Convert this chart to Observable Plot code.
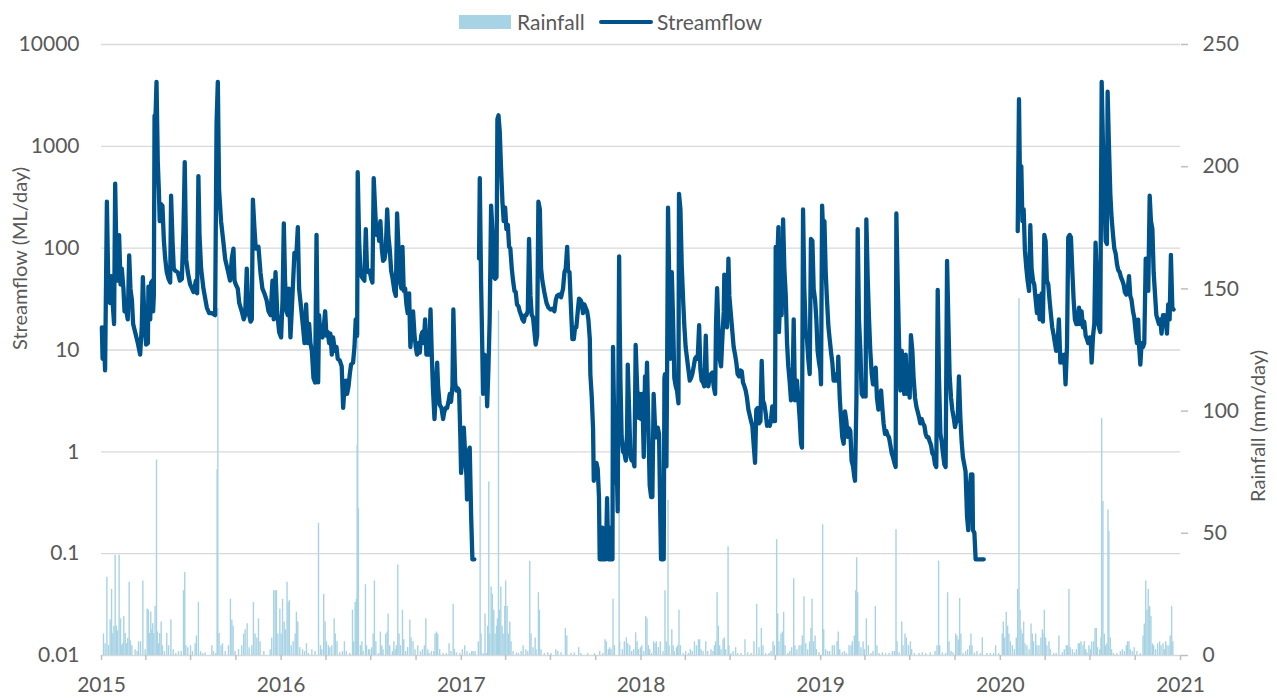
<!DOCTYPE html>
<html><head><meta charset="utf-8">
<script src="https://cdn.jsdelivr.net/npm/d3@7"></script>
<script src="https://cdn.jsdelivr.net/npm/@observablehq/plot@0.6"></script>
<style>
body{margin:0;background:#fff;font-family:Lato,"Open Sans",sans-serif;}
#legend{position:relative;width:1277px;height:30px;}
#legend div{position:absolute;}
#chart{position:relative;width:1277px;height:668px;}
#chart svg{position:absolute;left:0;top:0;}
</style></head><body>
<div id="legend"></div>
<div id="chart"></div>
<script>
// ---------- DATA ----------
const seriesNames = ["Rainfall", "Streamflow"];
const axisTitles = ["Streamflow (ML/day)", "Rainfall (mm/day)"];
const flowTicks = [0.01, 0.1, 1, 10, 100, 1000, 10000];
const rainTicks = [0, 50, 100, 150, 200, 250];
const yearLabels = [2015, 2016, 2017, 2018, 2019, 2020, 2021];

// [years since 1 Jan 2015, ML/day]; null = missing record
const streamflow2015 = [[0.002,16.7],[0.006,8.2],[0.011,16.7],[0.020,6.3],[0.030,286],[0.039,31],[0.048,29],[0.054,53],[0.061,31],[0.070,18],[0.076,430],[0.085,53],[0.091,48],[0.098,134],[0.106,44],[0.113,63],[0.122,40],[0.128,24],[0.135,26],[0.146,20],[0.154,85],[0.161,40],[0.169,31],[0.176,18],[0.187,15],[0.202,11.7],[0.215,9],[0.224,17],[0.230,52],[0.239,20],[0.248,11.3],[0.258,11.7],[0.261,42],[0.271,20],[0.276,46],[0.284,48],[0.287,24],[0.291,34],[0.295,2000],[0.300,1850],[0.306,4300],[0.313,700],[0.319,370],[0.324,184],[0.332,270],[0.339,260],[0.347,118],[0.354,80],[0.363,58],[0.373,50],[0.382,46],[0.387,327],[0.395,118],[0.402,63],[0.410,60],[0.424,58],[0.436,48],[0.447,50],[0.456,154],[0.463,700],[0.471,78],[0.480,58],[0.493,44],[0.512,37],[0.525,48],[0.532,36],[0.539,510],[0.545,135],[0.554,63],[0.567,40],[0.586,26],[0.599,23],[0.614,23],[0.632,22],[0.640,1690],[0.647,4300],[0.654,374],[0.665,184],[0.677,118],[0.688,78],[0.703,60],[0.715,48],[0.725,80],[0.734,99],[0.740,48],[0.747,44],[0.758,40],[0.766,29],[0.780,24],[0.791,20],[0.799,22],[0.808,63],[0.817,24],[0.829,19],[0.836,20],[0.842,300],[0.851,154],[0.858,99],[0.873,103],[0.884,58],[0.895,40],[0.906,36],[0.918,31],[0.929,24],[0.940,22],[0.951,48],[0.958,20],[0.968,58],[0.977,24],[0.988,15],[0.999,13.3]];
const streamflow2016 = [[1.007,31],[1.014,175],[1.021,48],[1.029,24],[1.036,22],[1.042,40],[1.051,13.3],[1.058,24],[1.066,48],[1.073,90],[1.083,80],[1.092,161],[1.099,40],[1.110,26],[1.121,16.7],[1.129,11.7],[1.138,28],[1.147,11.7],[1.155,18],[1.162,11.7],[1.170,9.8],[1.179,5.3],[1.188,4.8],[1.196,135],[1.205,4.8],[1.210,22],[1.218,14],[1.229,13.3],[1.236,16.7],[1.244,24],[1.251,13.8],[1.259,15],[1.266,11.7],[1.273,14.5],[1.281,9],[1.288,13.3],[1.298,9.8],[1.307,10.7],[1.314,8.2],[1.325,7.9],[1.336,6.9],[1.344,2.7],[1.351,4.1],[1.359,5.0],[1.366,3.7],[1.374,4.4],[1.381,5.8],[1.388,7.2],[1.399,7.5],[1.407,10.7],[1.414,20],[1.422,13.8],[1.425,557],[1.433,118],[1.440,60],[1.448,52],[1.455,50],[1.462,48],[1.470,154],[1.477,60],[1.485,58],[1.492,60],[1.500,50],[1.507,46],[1.514,487],[1.522,240],[1.529,135],[1.537,170],[1.544,118],[1.551,184],[1.559,100],[1.566,75],[1.574,78],[1.581,95],[1.589,240],[1.596,130],[1.603,99],[1.611,60],[1.618,52],[1.629,38],[1.637,34],[1.644,219],[1.652,99],[1.659,48],[1.668,40],[1.674,103],[1.681,38],[1.689,40],[1.696,28],[1.703,23],[1.711,36],[1.718,10.7],[1.726,16.7],[1.733,24],[1.741,14],[1.748,10.7],[1.755,9],[1.763,11.7],[1.770,9.4],[1.778,13.8],[1.785,15],[1.792,11.7],[1.800,20],[1.807,9],[1.815,11.7],[1.822,9],[1.830,25],[1.837,9],[1.844,4.0],[1.852,2.1],[1.859,3.7],[1.867,7.5],[1.872,4.4],[1.881,2.9],[1.891,2.7],[1.900,2.1],[1.907,2.5],[1.915,2.7],[1.922,2.7],[1.930,3.1],[1.937,3.7],[1.944,3.1],[1.952,4.4],[1.957,25],[1.967,4.8],[1.974,4.0],[1.982,4.2],[1.989,4.0],[1.996,1.4]];
const streamflow2017 = [[2.000,0.62],[2.007,0.89],[2.015,1.73],[2.022,1.0],[2.030,0.57],[2.033,0.34],[2.041,1.0],[2.048,1.1],[2.056,0.23],[2.063,0.088],[2.074,0.088],[2.085,null],[2.100,79],[2.104,487],[2.111,48],[2.117,12.8],[2.122,3.7],[2.130,9],[2.137,8.2],[2.145,2.8],[2.152,6.5],[2.159,20],[2.167,262],[2.174,154],[2.182,52],[2.189,50],[2.197,52],[2.202,1850],[2.208,2020],[2.215,1400],[2.222,630],[2.230,286],[2.237,184],[2.245,250],[2.252,154],[2.260,170],[2.267,103],[2.274,99],[2.282,63],[2.289,48],[2.297,38],[2.304,37],[2.311,28],[2.319,27],[2.326,24],[2.334,22],[2.341,20],[2.349,19],[2.356,22],[2.363,22],[2.371,24],[2.378,123],[2.386,34],[2.393,22],[2.400,21],[2.408,15],[2.415,11.3],[2.423,13.8],[2.430,286],[2.438,240],[2.445,63],[2.452,48],[2.463,37],[2.475,29],[2.486,26],[2.497,25],[2.508,25.5],[2.519,24],[2.527,31],[2.534,34],[2.545,35],[2.556,33],[2.567,40],[2.575,58],[2.582,63],[2.590,103],[2.595,60],[2.603,58],[2.612,24],[2.619,12.8],[2.627,12.8],[2.634,16.7],[2.641,16.7],[2.649,24],[2.656,32],[2.664,31],[2.671,29],[2.678,23],[2.686,28],[2.693,26],[2.701,24],[2.708,20],[2.716,12.8],[2.719,5.8],[2.727,3.4],[2.734,1.7],[2.738,0.52],[2.745,0.78],[2.753,0.78],[2.760,0.68],[2.767,0.36],[2.771,0.088],[2.779,0.088],[2.786,0.18],[2.790,0.088],[2.805,0.088],[2.812,0.35],[2.819,0.088],[2.827,0.18],[2.834,0.088],[2.842,0.088],[2.845,10.7],[2.853,1.4],[2.860,0.57],[2.868,0.47],[2.871,0.26],[2.879,83],[2.882,20],[2.886,5.3],[2.893,1.4],[2.901,1.0],[2.908,0.97],[2.916,0.82],[2.923,1.5],[2.927,7.2],[2.934,2.8],[2.942,0.89],[2.949,0.82],[2.957,0.82],[2.964,0.72],[2.971,11.2],[2.979,4.4],[2.986,2.16],[2.994,3.7]];
const streamflow2018 = [[3.001,2.1],[3.008,3.7],[3.016,0.89],[3.023,5.5],[3.031,4.4],[3.034,7.5],[3.042,1.7],[3.049,0.47],[3.057,0.36],[3.064,0.36],[3.071,3.7],[3.079,1.7],[3.086,1.39],[3.094,1.73],[3.101,1.5],[3.108,0.23],[3.112,0.088],[3.127,0.088],[3.131,5.3],[3.134,5.8],[3.142,0.72],[3.146,6.9],[3.151,250],[3.157,58],[3.164,8.2],[3.172,58],[3.179,20],[3.186,5.3],[3.194,4.4],[3.201,4.0],[3.209,3.0],[3.212,342],[3.220,240],[3.227,69],[3.235,31],[3.242,17],[3.249,10.7],[3.257,8.2],[3.264,6.5],[3.272,5.0],[3.279,5.3],[3.286,5.8],[3.294,6.9],[3.301,8.2],[3.309,8.6],[3.316,8.2],[3.324,17.5],[3.331,6.5],[3.338,5.0],[3.346,4.8],[3.353,4.4],[3.361,13.8],[3.368,4.6],[3.375,4.4],[3.383,5.3],[3.390,5.8],[3.398,6.0],[3.405,4.4],[3.413,3.7],[3.418,18],[3.424,40.5],[3.431,16.7],[3.438,8.2],[3.446,6.9],[3.453,12.8],[3.461,23.8],[3.464,55],[3.472,22],[3.479,16.7],[3.487,79],[3.492,34],[3.501,22],[3.509,15],[3.516,10.7],[3.524,9.0],[3.531,7.5],[3.538,5.8],[3.546,5.5],[3.553,6.3],[3.561,6.2],[3.568,4.8],[3.576,4.4],[3.583,4.0],[3.590,3.4],[3.598,2.6],[3.605,2.3],[3.613,2.0],[3.620,1.8],[3.627,1.2],[3.635,0.78],[3.642,2.6],[3.650,2.7],[3.657,1.9],[3.665,2.0],[3.672,7.8],[3.679,3.2],[3.687,2.9],[3.694,2.4],[3.702,1.8],[3.709,1.9],[3.717,1.8],[3.724,2.1],[3.731,2.8],[3.739,2.0],[3.746,2.0],[3.750,103],[3.757,63],[3.765,161],[3.768,15],[3.776,40],[3.783,22],[3.791,192],[3.798,63],[3.806,34],[3.813,11.7],[3.820,6.9],[3.828,4.8],[3.835,3.2],[3.843,3.7],[3.850,20],[3.857,3.2],[3.865,4.0],[3.868,5.0],[3.876,3.3],[3.883,2.16],[3.891,1.2],[3.896,1.1],[3.902,240],[3.909,40],[3.917,15],[3.924,12.8],[3.931,8.2],[3.939,5.8],[3.946,123],[3.954,118],[3.961,40],[3.969,31],[3.976,20],[3.983,9.8],[3.991,7.5],[3.998,6.3]];
const streamflow2019 = [[4.002,4.6],[4.008,262],[4.013,154],[4.021,184],[4.028,58],[4.035,31],[4.043,17],[4.050,12.8],[4.058,9.4],[4.065,7.5],[4.072,5.0],[4.080,5.0],[4.087,5.8],[4.095,5.0],[4.098,8.6],[4.106,3.4],[4.113,2.16],[4.120,1.4],[4.128,1.2],[4.135,2.5],[4.143,2.0],[4.150,1.4],[4.158,1.7],[4.165,1.6],[4.172,0.82],[4.180,0.72],[4.187,0.57],[4.191,0.52],[4.199,3.4],[4.206,154],[4.213,20],[4.221,9.8],[4.228,3.7],[4.236,3.5],[4.243,3.7],[4.250,3.5],[4.254,192],[4.262,48],[4.269,20],[4.276,9.8],[4.284,5.8],[4.291,4.6],[4.299,5.8],[4.306,6.7],[4.313,3.4],[4.321,2.6],[4.328,3.1],[4.336,4.0],[4.343,2.7],[4.350,1.9],[4.358,1.5],[4.365,1.6],[4.373,1.45],[4.380,1.39],[4.388,1.16],[4.395,0.97],[4.402,0.89],[4.410,0.78],[4.417,0.71],[4.421,219],[4.428,48],[4.436,11.7],[4.443,4.0],[4.451,9.8],[4.458,5.0],[4.465,3.7],[4.473,9.0],[4.480,3.7],[4.488,5.3],[4.495,3.4],[4.502,14],[4.510,9.8],[4.517,5.3],[4.525,3.4],[4.532,2.8],[4.539,2.5],[4.547,2.2],[4.554,1.9],[4.562,2.1],[4.569,1.9],[4.577,1.8],[4.584,1.5],[4.591,1.39],[4.599,1.39],[4.606,1.27],[4.614,1.16],[4.621,0.97],[4.628,0.93],[4.636,0.75],[4.643,0.71],[4.651,39],[4.658,5.3],[4.666,1.5],[4.673,1.27],[4.680,0.97],[4.688,0.75],[4.695,0.71],[4.703,75],[4.710,19.9],[4.717,5.8],[4.725,3.4],[4.732,2.6],[4.740,2.16],[4.747,1.75],[4.754,2.0],[4.762,2.0],[4.769,5.5],[4.777,2.16],[4.784,1.27],[4.791,0.89],[4.799,0.75],[4.806,0.64],[4.814,0.234],[4.821,0.17],[4.829,0.44],[4.836,0.6],[4.840,0.53],[4.844,0.6],[4.847,0.17],[4.855,0.16],[4.862,0.088],[4.907,0.088],[4.968,null]];
const streamflow2020 = [[5.096,147],[5.103,2900],[5.110,262],[5.116,637],[5.122,184],[5.129,240],[5.136,95],[5.144,63],[5.151,48],[5.159,38],[5.166,168],[5.173,63],[5.181,48],[5.188,44],[5.196,31],[5.203,23],[5.210,34],[5.218,20],[5.225,20],[5.229,36],[5.236,19],[5.244,135],[5.251,118],[5.258,48],[5.266,44],[5.273,31],[5.281,22],[5.288,16.7],[5.296,14],[5.303,11.7],[5.310,9.8],[5.318,11.7],[5.325,20],[5.333,7.5],[5.340,9.0],[5.348,7.5],[5.355,9.0],[5.362,4.6],[5.370,10.7],[5.377,128],[5.385,135],[5.392,128],[5.400,58],[5.407,31],[5.414,20],[5.422,18],[5.429,18],[5.437,26],[5.444,18],[5.451,24],[5.459,16.7],[5.466,19],[5.474,13.8],[5.481,12.8],[5.488,11.7],[5.496,13.3],[5.503,11.7],[5.507,7.5],[5.515,13.8],[5.522,18],[5.529,113],[5.537,48],[5.540,20],[5.548,16.7],[5.555,15],[5.563,4300],[5.570,1080],[5.578,342],[5.585,118],[5.592,110],[5.596,3440],[5.603,1080],[5.611,342],[5.618,200],[5.626,135],[5.633,100],[5.641,88],[5.648,70],[5.655,61],[5.663,58],[5.670,52],[5.678,48],[5.685,44],[5.692,37],[5.700,35],[5.707,38],[5.715,53],[5.722,34],[5.729,31],[5.737,24],[5.744,21],[5.752,15],[5.759,11.7],[5.766,19.9],[5.770,11.7],[5.778,7.2],[5.785,11.7],[5.793,10.7],[5.800,11.7],[5.808,79],[5.815,79],[5.822,38],[5.830,327],[5.837,184],[5.845,154],[5.852,58],[5.859,37],[5.867,22],[5.874,20],[5.881,18],[5.889,20],[5.896,14.5],[5.904,22],[5.911,22],[5.919,20],[5.926,14.5],[5.933,28],[5.941,20],[5.948,86],[5.956,26],[5.963,25]];

// [years since 1 Jan 2015, mm/day]
const rain2015 = [[0.011,8.8],[0.020,4.8],[0.030,32],[0.039,4],[0.048,14.5],[0.056,27],[0.063,9],[0.069,12],[0.076,41],[0.083,12],[0.089,10],[0.098,41],[0.106,15],[0.113,4],[0.117,4.8],[0.124,16],[0.132,9],[0.139,4.8],[0.146,7],[0.154,30],[0.161,6],[0.169,4],[0.187,2.4],[0.198,1.6],[0.206,5.6],[0.217,5.6],[0.230,30.5],[0.243,2.4],[0.254,19],[0.261,18.5],[0.267,9],[0.274,17.7],[0.280,10.5],[0.285,13],[0.291,9],[0.298,20],[0.306,80],[0.311,9.6],[0.317,4.8],[0.324,9],[0.332,13.7],[0.339,4],[0.350,1.6],[0.363,9],[0.373,4],[0.386,14.5],[0.399,2.4],[0.413,0.8],[0.428,1.6],[0.443,1.6],[0.456,26.5],[0.463,34],[0.469,4],[0.480,3.2],[0.495,4],[0.506,1.6],[0.521,4.8],[0.528,8],[0.539,21.7],[0.551,1.6],[0.562,0.8],[0.576,1.1],[0.614,4],[0.623,1.6],[0.636,0.8],[0.643,76],[0.647,142],[0.654,9],[0.665,4],[0.673,4.8],[0.688,1.6],[0.706,4],[0.717,23],[0.725,14.5],[0.732,12],[0.743,1.6],[0.762,2.4],[0.780,4],[0.791,8.8],[0.799,10.5],[0.810,13],[0.821,3.2],[0.836,4],[0.845,21.7],[0.854,8.8],[0.864,7.2],[0.873,15],[0.882,5.6],[0.903,1.6],[0.938,2.4],[0.947,7.2],[0.958,26.5],[0.966,26.5],[0.973,26.5],[0.981,8.8],[0.992,19],[0.999,8.8]];
const rain2016 = [[1.007,23],[1.016,13.7],[1.023,10.5],[1.032,30],[1.038,21.7],[1.045,22.5],[1.055,4],[1.066,5.6],[1.077,8.8],[1.084,17.7],[1.092,13.7],[1.103,3.2],[1.118,2.4],[1.129,1.6],[1.140,4.8],[1.151,0.8],[1.170,2.4],[1.188,1.6],[1.207,54],[1.218,4],[1.225,2.4],[1.236,25],[1.244,13.7],[1.251,5.6],[1.262,4],[1.270,3.2],[1.281,4],[1.294,15],[1.301,8.8],[1.310,5.6],[1.325,1.1],[1.340,1.6],[1.351,5.6],[1.362,1.6],[1.381,0.8],[1.396,18.5],[1.403,5.6],[1.411,21.7],[1.418,23],[1.422,86],[1.425,137],[1.429,60],[1.440,4],[1.448,5.6],[1.455,1.6],[1.468,29],[1.474,4],[1.485,2.4],[1.492,2.4],[1.503,3.2],[1.511,8.8],[1.518,30.5],[1.526,5.6],[1.540,0.8],[1.551,9.6],[1.559,4],[1.566,2.4],[1.581,8.8],[1.589,9.6],[1.594,17],[1.603,4],[1.618,1.6],[1.626,5.6],[1.633,2.4],[1.640,4],[1.648,37],[1.655,8.8],[1.663,4],[1.674,18.5],[1.681,6.4],[1.692,1.6],[1.703,3.2],[1.715,14.5],[1.722,7.2],[1.733,5.6],[1.744,2.4],[1.759,4],[1.774,1.6],[1.785,2.4],[1.796,4],[1.804,15],[1.815,2.4],[1.822,0.8],[1.835,1.6],[1.848,1.6],[1.855,8.8],[1.863,9.6],[1.870,8.8],[1.881,2.4],[1.900,0.8],[1.918,0.8],[1.933,4.8],[1.944,1.6],[1.956,21],[1.963,2.4],[1.974,1.1],[1.993,0.8]];
const rain2017 = [[2.007,2.4],[2.020,4],[2.033,1.6],[2.048,0.8],[2.059,1.6],[2.067,1.6],[2.078,1.6],[2.096,5.6],[2.106,106],[2.111,8.8],[2.122,0.8],[2.133,17],[2.141,0.8],[2.148,12],[2.154,71],[2.159,8.8],[2.167,28],[2.174,25],[2.182,18.5],[2.189,8.8],[2.197,12],[2.202,15],[2.208,141],[2.213,18.5],[2.221,28],[2.228,12],[2.234,8.8],[2.243,20],[2.248,30.5],[2.256,20],[2.263,8.8],[2.271,13.7],[2.278,5.6],[2.289,1.6],[2.308,1.1],[2.319,0.8],[2.334,1.6],[2.345,4],[2.360,2.4],[2.371,1.6],[2.382,38.6],[2.389,8.8],[2.400,3.2],[2.412,7.2],[2.417,2.4],[2.430,25.7],[2.436,18.5],[2.445,2.4],[2.463,0.8],[2.482,1.1],[2.500,0.8],[2.527,2.4],[2.538,1.6],[2.556,1.1],[2.580,11],[2.588,8],[2.612,0.8],[2.630,1.1],[2.654,3.2],[2.667,0.8],[2.704,0.8],[2.741,0.8],[2.771,1.6],[2.788,0.8],[2.801,6.4],[2.808,5.6],[2.819,2.4],[2.827,3.2],[2.834,2.4],[2.845,23],[2.853,4],[2.879,65],[2.882,5.6],[2.897,2.4],[2.908,5.6],[2.919,7.2],[2.927,4.8],[2.938,4],[2.949,1.6],[2.960,2.4],[2.971,9.3],[2.979,5.6],[2.986,2.4],[2.997,3.2]];
const rain2018 = [[3.005,4],[3.016,1.6],[3.027,16],[3.034,15],[3.042,4],[3.049,2.4],[3.060,0.8],[3.071,5.6],[3.079,4.8],[3.086,5.6],[3.097,3.2],[3.108,5.6],[3.123,1.6],[3.134,26.5],[3.142,5.6],[3.151,63.5],[3.157,4],[3.172,10.5],[3.179,4],[3.186,1.6],[3.198,3.2],[3.205,4],[3.212,18.5],[3.220,4],[3.235,0.8],[3.249,1.6],[3.264,0.8],[3.275,2.4],[3.286,1.6],[3.298,5.6],[3.309,4],[3.320,6.4],[3.327,6.4],[3.335,2.4],[3.346,1.6],[3.361,5.6],[3.372,1.6],[3.390,2.4],[3.401,1.6],[3.409,4],[3.416,5.6],[3.424,25.7],[3.431,12],[3.438,4],[3.446,2.4],[3.457,6.4],[3.464,7.2],[3.472,2.4],[3.485,44.5],[3.490,4],[3.501,0.8],[3.513,1.6],[3.527,3.2],[3.538,0.8],[3.557,0.8],[3.579,6.4],[3.594,1.1],[3.613,0.8],[3.629,5.6],[3.644,21],[3.657,3.2],[3.670,11],[3.679,4],[3.694,0.8],[3.713,0.8],[3.724,1.6],[3.735,5.6],[3.742,4],[3.755,47.4],[3.761,17],[3.768,5.6],[3.779,8.8],[3.787,9.6],[3.794,17.7],[3.802,4],[3.817,0.8],[3.828,1.6],[3.839,3.2],[3.850,31.4],[3.857,4],[3.868,2.4],[3.880,4],[3.891,4],[3.898,8],[3.907,24],[3.917,4.8],[3.928,2.4],[3.939,5.6],[3.946,11],[3.952,23],[3.961,5.6],[3.969,8],[3.976,2.4],[3.991,1.1]];
const rain2019 = [[4.011,53.5],[4.017,10.5],[4.028,2.4],[4.039,1.6],[4.050,1.6],[4.065,4],[4.076,4],[4.091,5.6],[4.098,9.6],[4.106,2.4],[4.120,1.1],[4.132,1.6],[4.143,0.8],[4.158,4],[4.169,4],[4.176,5.6],[4.187,8],[4.195,26.5],[4.200,40],[4.206,25.7],[4.213,5.6],[4.224,3.2],[4.236,5.6],[4.243,2.4],[4.254,15],[4.265,4],[4.280,0.8],[4.291,1.6],[4.304,20],[4.313,4],[4.325,0.8],[4.343,1.1],[4.361,0.8],[4.380,0.8],[4.399,1.6],[4.410,1.6],[4.419,51.5],[4.425,5.6],[4.436,1.1],[4.451,13.7],[4.458,4],[4.469,8.8],[4.477,7.2],[4.488,4],[4.499,5.6],[4.506,2.4],[4.521,0.8],[4.547,0.8],[4.565,1.1],[4.584,0.8],[4.610,1.1],[4.636,1.6],[4.647,4],[4.656,38.6],[4.662,4],[4.677,1.1],[4.695,0.8],[4.706,25.7],[4.714,5.6],[4.725,1.6],[4.736,1.1],[4.751,8.8],[4.758,8],[4.766,6.4],[4.773,23.3],[4.780,8.8],[4.792,0.8],[4.806,1.6],[4.817,2.4],[4.829,4],[4.836,8.8],[4.842,4],[4.855,1.1],[4.869,1.6],[4.888,0.8],[4.899,7.2],[4.925,0.8],[4.944,0.8],[4.962,0.8],[4.973,4],[4.990,0.8]];
const rain2020 = [[5.010,8.8],[5.016,13.7],[5.023,7.2],[5.032,17.7],[5.040,12],[5.047,8.8],[5.055,5.6],[5.066,4],[5.077,2.4],[5.088,7.2],[5.096,27],[5.103,146],[5.109,18.5],[5.114,10.5],[5.122,8.8],[5.129,13.7],[5.136,4.8],[5.147,4],[5.159,2.4],[5.170,12.9],[5.177,8.8],[5.184,5.6],[5.196,8.8],[5.203,4],[5.214,4],[5.225,7.2],[5.233,10.5],[5.236,8.8],[5.244,18.5],[5.251,7.2],[5.258,4],[5.270,5.6],[5.277,2.4],[5.296,0.8],[5.310,0.8],[5.325,8],[5.344,1.1],[5.355,2.4],[5.366,4],[5.374,4],[5.381,27],[5.388,3.2],[5.400,2.4],[5.411,1.1],[5.422,2.4],[5.433,4.8],[5.440,4.8],[5.448,5.6],[5.459,4],[5.466,5.6],[5.474,2.4],[5.481,1.1],[5.492,4],[5.500,2.4],[5.507,5.6],[5.518,5.6],[5.526,11],[5.533,11],[5.540,3.2],[5.552,2.4],[5.559,7.2],[5.563,97],[5.570,63],[5.578,8.8],[5.585,4],[5.592,4.8],[5.598,59.5],[5.603,50.7],[5.611,7.2],[5.618,2.4],[5.629,0.8],[5.648,0.8],[5.667,1.6],[5.678,2.4],[5.689,1.6],[5.700,4],[5.707,5.6],[5.715,5.6],[5.722,2.4],[5.733,1.6],[5.744,3.2],[5.759,1.6],[5.778,0.8],[5.793,8],[5.800,12.9],[5.808,30.5],[5.815,18.5],[5.822,27],[5.830,20],[5.837,16],[5.845,4.8],[5.852,4],[5.863,2.4],[5.874,4.8],[5.885,5.6],[5.893,4],[5.904,4.8],[5.911,2.4],[5.919,5.6],[5.926,4],[5.937,4],[5.944,8],[5.952,20],[5.959,5.6]];

// ---------- BUILD ----------
const FLOW_COLOR = "#00538a", RAIN_COLOR = "#a8d3e4";
const TEXT_COLOR = "#595959", AXIS_COLOR = "#bfbfbf", GRID_COLOR = "#d9d9d9";
const FONT = "Lato, 'Open Sans', sans-serif";
const T0 = Date.UTC(2015, 0, 1);
const toDate = t => new Date(T0 + t * 365.25 * 864e5);

const flow = [streamflow2015, streamflow2016, streamflow2017, streamflow2018, streamflow2019, streamflow2020]
  .flat().map(([t, v]) => ({date: toDate(t), v: v == null ? NaN : v}));
const rain = [rain2015, rain2016, rain2017, rain2018, rain2019, rain2020]
  .flat().map(([t, mm]) => ({date: toDate(t), mm}));

const yearTicks = yearLabels.map(y => new Date(Date.UTC(y, 0, 1)));
const quarterTicks = d3.utcMonth.every(3).range(yearTicks[0], new Date(Date.UTC(2021, 0, 2)));
const xDomain = [yearTicks[0], yearTicks[yearTicks.length - 1]];

const W = 1277, H = 668;
const common = {
  width: W, height: H, marginTop: 14, marginBottom: 43, marginLeft: 101, marginRight: 97,
  style: {background: "transparent", fontFamily: FONT, fontSize: "21px", color: TEXT_COLOR, overflow: "visible"}
};

// Layer 1: grid, left log axis, bottom time axis, titles
const base = Plot.plot({
  ...common,
  x: {type: "utc", domain: xDomain, label: null},
  y: {type: "log", domain: [flowTicks[0], flowTicks[flowTicks.length - 1]], label: null},
  marks: [
    Plot.gridY(flowTicks, {stroke: GRID_COLOR, strokeOpacity: 1, strokeWidth: 1.3}),
    Plot.axisY(flowTicks, {tickSize: 0, tickPadding: 22, tickFormat: d => String(d), fill: TEXT_COLOR, stroke: AXIS_COLOR, line: true, fontSize: 21, label: null}),
    Plot.axisX(quarterTicks, {tickSize: 5, tickFormat: () => "", stroke: AXIS_COLOR, line: true, strokeWidth: 1.5, label: null}),
    Plot.axisX(yearTicks, {tickSize: 0, tickPadding: 22, tickFormat: d => String(d.getUTCFullYear()), fill: TEXT_COLOR, fontSize: 21, label: null}),
    Plot.text([axisTitles[0]], {frameAnchor: "left", dx: -81, rotate: -90, text: d => d, fill: TEXT_COLOR, fontSize: 20}),
    Plot.text([axisTitles[1]], {frameAnchor: "right", dx: 78, rotate: -90, text: d => d, fill: TEXT_COLOR, fontSize: 20})
  ]
});

// Layer 2: rainfall bars + right axis
const rainPlot = Plot.plot({
  ...common,
  x: {type: "utc", domain: xDomain, axis: null, label: null},
  y: {domain: [rainTicks[0], rainTicks[rainTicks.length - 1]], label: null},
  marks: [
    Plot.ruleX(rain, {x: "date", y1: 0, y2: "mm", stroke: RAIN_COLOR, strokeWidth: 1.4}),
    Plot.axisY(rainTicks, {anchor: "right", tickSize: 7, tickPadding: 15, stroke: AXIS_COLOR, fill: TEXT_COLOR, line: true, strokeWidth: 1.5, fontSize: 21, label: null})
  ]
});

// Layer 3: streamflow line
const flowPlot = Plot.plot({
  ...common,
  x: {type: "utc", domain: xDomain, axis: null, label: null},
  y: {type: "log", domain: [flowTicks[0], flowTicks[flowTicks.length - 1]], axis: null, label: null},
  marks: [
    Plot.line(flow, {x: "date", y: "v", stroke: FLOW_COLOR, strokeWidth: 4.3, strokeLinejoin: "round", strokeLinecap: "round"})
  ]
});

const chart = document.getElementById("chart");
chart.append(base, rainPlot, flowPlot);

// Legend
const legend = document.getElementById("legend");
const mk = (css, text) => { const d = document.createElement("div"); d.style.cssText = css; if (text) d.textContent = text; legend.append(d); };
mk(`left:459px;top:15px;width:52px;height:14px;background:${RAIN_COLOR};`);
mk(`left:517px;top:9px;font:21px ${FONT};line-height:26px;color:${TEXT_COLOR};`, seriesNames[0]);
mk(`left:599px;top:20px;width:54px;height:3.5px;border-radius:2px;background:${FLOW_COLOR};`);
mk(`left:657px;top:9px;font:21px ${FONT};line-height:26px;color:${TEXT_COLOR};`, seriesNames[1]);
</script>
</body></html>
